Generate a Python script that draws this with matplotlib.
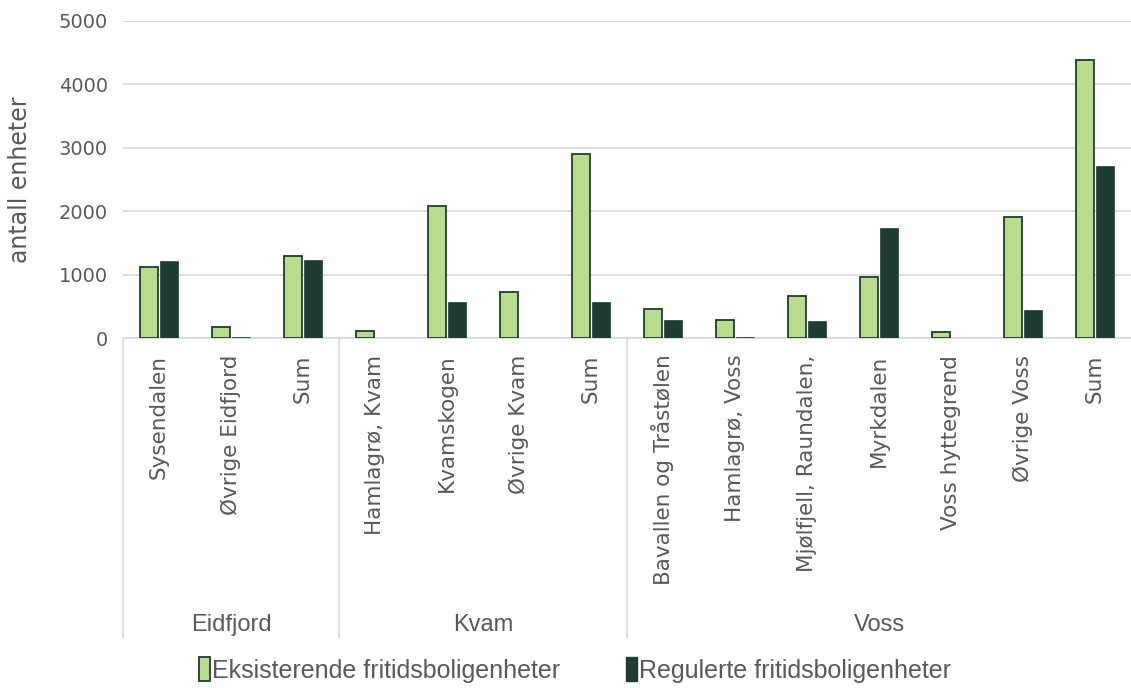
import matplotlib.pyplot as plt
import matplotlib.transforms as mtransforms
from matplotlib.patches import Patch
import numpy as np

# data
kommuner = ['Eidfjord', 'Kvam', 'Voss']
omrader = [
    ['Sysendalen', 'Øvrige Eidfjord', 'Sum'],
    ['Hamlagrø, Kvam', 'Kvamskogen', 'Øvrige Kvam', 'Sum'],
    ['Bavallen og Tråstølen', 'Hamlagrø, Voss', 'Mjølfjell, Raundalen,',
     'Myrkdalen', 'Voss hyttegrend', 'Øvrige Voss', 'Sum'],
]
eksisterende = [1120, 175, 1290,
                105, 2080, 720, 2905,
                465, 290, 660, 955, 100, 1915, 4385]
regulerte = [1208, 20, 1230,
             0, 560, 0, 560,
             282, 20, 262, 1735, 0, 440, 2715]

light = '#b9dc8e'
dark = '#1f3d34'
grey = '#595959'

plt.rcParams['font.family'] = ['DejaVu Sans']
narrow = ['Liberation Sans', 'DejaVu Sans']

fig = plt.figure(figsize=(11.31, 6.88), dpi=100)
ax = fig.add_axes([123 / 1131, 350 / 688, 1008 / 1131, 317 / 688])

labels = [l for grp in omrader for l in grp]
x = np.arange(len(labels))
w = 0.24
ax.bar(x - 0.14, eksisterende, w, color=light, edgecolor=dark, linewidth=1.3, zorder=3)
ax.bar(x + 0.14, regulerte, w, color=dark, edgecolor=dark, linewidth=0.5, zorder=3)

ax.set_xlim(-0.5, len(labels) - 0.5)
ax.set_ylim(0, 5000)
ax.set_yticks(range(0, 5001, 1000))
ax.yaxis.grid(True, color='#d9d9d9', linewidth=1.2, zorder=0)
for s in ['top', 'right', 'left']:
    ax.spines[s].set_visible(False)
ax.spines['bottom'].set_color('#d9d9d9')
ax.spines['bottom'].set_linewidth(1.2)
ax.tick_params(axis='y', length=0, labelsize=14, labelcolor=grey, pad=11)
ax.tick_params(axis='x', length=0, pad=12)
ax.set_xticks(x)
ax.set_xticklabels(labels, rotation=90, fontsize=15.5, color=grey, va='top', ha='center')
ax.set_ylabel('antall enheter', fontsize=17, color=grey)
ax.yaxis.set_label_coords(-0.09, 0.5)

# group separators and group labels below the category labels
trans = mtransforms.blended_transform_factory(ax.transData, ax.transAxes)
start = 0
bounds = [-0.5]
for name, grp in zip(kommuner, omrader):
    end = start + len(grp)
    bounds.append(end - 0.5)
    ax.text((start + end - 1) / 2, -0.905, name, transform=trans, ha='center', va='center',
            fontsize=17, color=grey, family=narrow)
    start = end
for b in bounds[:-1]:
    ax.plot([b, b], [0, -0.946], transform=trans, color='#d9d9d9', linewidth=1.2, clip_on=False)

handles = [Patch(facecolor=light, edgecolor=dark, linewidth=1.3),
           Patch(facecolor=dark, edgecolor=dark)]
fig.legend(handles, ['Eksisterende fritidsboligenheter', 'Regulerte fritidsboligenheter'],
           loc='center', bbox_to_anchor=(575 / 1131, 1 - 670 / 688), ncol=2, frameon=False,
           handlelength=0.45, handleheight=1.1, handletextpad=0.1, columnspacing=2.6,
           prop={'family': narrow, 'size': 18}, labelcolor=grey)

fig.savefig('out.png', dpi=100)
